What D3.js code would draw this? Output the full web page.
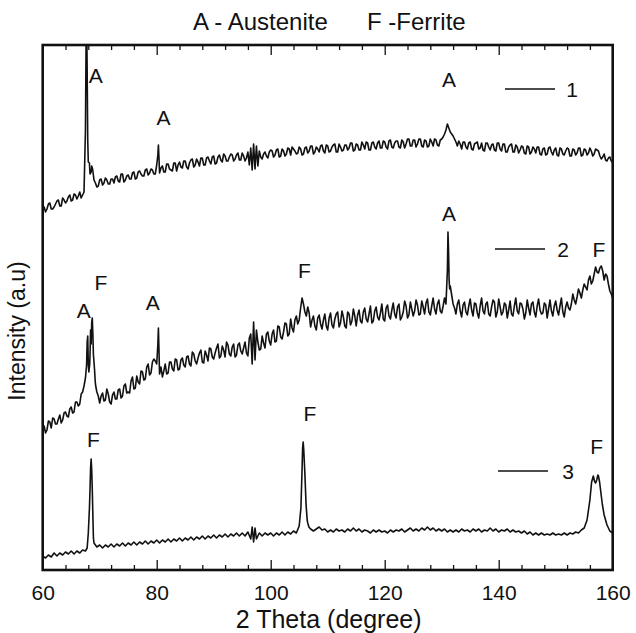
<!DOCTYPE html>
<html>
<head>
<meta charset="utf-8">
<script src="https://cdn.jsdelivr.net/npm/d3@7"></script>
<style>
  html, body { margin: 0; padding: 0; background: #fff; }
  svg { display: block; font-family: "Liberation Sans", Arial, sans-serif; }
</style>
</head>
<body>
<svg id="chart" width="636" height="633"></svg>
<script>
// ---------- DATA ----------
// 2-theta grid (degrees): main points every 0.5 deg from 60, in-between points at +0.25 deg
const twoTheta = d3.range(201).map(i => 60 + i * 0.5);
const twoThetaMid = d3.range(200).map(i => 60.25 + i * 0.5);

// Pattern 1 (top trace)
const int1 = [
  361,358,366,361,363,369,364,372,367,373,
  369,376,371,378,375,440,408,398,390,383,
  390,385,392,386,391,387,394,388,396,390,
  395,391,398,392,399,394,400,395,401,396,
  405,397,404,398,406,400,407,399,408,402,
  409,401,410,403,411,404,412,405,413,406,
  414,407,415,408,414,409,416,409,415,410,
  417,409,418,422,426,424,419,411,418,412,
  420,413,420,413,421,414,422,415,421,416,
  423,415,422,417,424,416,423,418,425,417,
  424,419,425,418,426,419,425,420,427,419,
  426,420,428,421,427,420,428,421,429,422,
  428,421,430,422,429,423,430,422,431,424,
  430,423,431,424,430,423,431,424,430,424,
  431,436,446,438,434,428,429,421,428,421,
  428,420,427,421,427,419,427,420,426,419,
  427,419,426,418,425,418,425,417,424,417,
  424,416,423,417,423,415,422,416,423,415,
  422,414,421,415,422,414,421,415,422,414,
  421,415,422,414,421,419,411,416,409,413,
  408
];
const int1Mid = [
  363,361,367,361,366,370,364,370,369,375,
  370,375,374,372,378,530,401,401,387,384,
  391,387,390,386,391,393,389,396,388,394,
  391,397,391,398,396,394,401,397,400,396,
  420,402,398,406,401,399,407,405,403,409,
  403,407,411,405,408,412,405,412,409,413,
  406,413,410,416,409,413,415,411,417,410,
  414,412,405,400,401,404,413,416,414,418,
  419,415,421,414,419,416,421,423,419,417,
  421,416,423,419,424,418,421,424,419,425,
  418,423,426,418,423,420,425,422,427,420,
  425,420,425,428,420,427,423,427,422,429,
  423,429,423,427,429,422,428,426,431,424,
  430,426,431,423,429,424,428,431,425,430,
  433,440,442,436,431,424,426,428,423,427,
  421,426,428,422,420,427,423,425,420,427,
  421,426,418,423,426,418,423,420,423,416,
  423,418,421,423,416,421,415,422,418,420,
  415,422,416,419,421,414,420,417,422,415,
  420,417,419,416,420,414,413,410,412,409
];
// extra points (2theta, intensity) resolving the sharp peaks of pattern 1
const peaks1 = [
  [67.6,520],[67.7,560],[67.8,500],[67.9,430],[68.2,407],[68.3,396],[68.6,404],[68.8,399],
  [80.2,415],[80.3,425],[80.4,412]
];

// Pattern 2 (middle trace)
const int2 = [
  143,137,149,142,151,146,155,150,158,153,
  163,158,168,166,178,192,205,226,208,178,
  167,177,170,176,166,178,171,181,174,186,
  178,189,181,194,186,198,191,206,197,211,
  206,196,193,206,197,208,199,210,201,212,
  203,214,204,216,206,217,208,219,209,221,
  211,222,212,224,213,225,214,226,215,227,
  216,228,214,236,248,240,220,234,222,238,
  225,240,229,243,231,247,234,251,238,254,
  250,272,258,263,243,254,240,255,241,256,
  240,257,242,256,243,259,244,258,245,261,
  244,260,247,262,248,264,249,263,250,266,
  249,265,251,267,252,266,253,269,252,268,
  254,270,255,269,256,271,255,272,256,270,
  257,272,300,284,266,256,270,253,268,255,
  271,254,266,252,272,256,268,254,270,253,
  271,255,267,252,269,254,272,256,266,251,
  270,255,268,253,271,256,267,252,270,254,
  269,255,272,253,268,260,276,266,281,272,
  286,280,294,289,303,297,304,290,294,279,
  272
];
const int2Mid = [
  144,140,148,152,146,151,147,157,154,161,
  157,168,164,176,184,216,206,244,186,174,
  174,169,181,168,175,171,180,172,184,177,
  177,193,182,188,199,190,203,195,208,209,
  234,203,199,196,208,201,211,200,210,205,
  213,206,218,209,212,220,207,215,222,213,
  217,226,214,220,228,216,223,213,225,219,
  222,217,232,206,210,228,221,227,236,229,
  236,228,244,233,238,246,236,242,250,246,
  262,266,254,257,250,244,252,246,250,244,
  252,245,251,258,247,253,242,256,249,254,
  255,249,258,251,256,247,259,253,257,251,
  262,254,260,256,263,250,258,264,255,261,
  259,265,256,263,267,258,264,261,266,259,
  264,266,305,275,262,266,259,265,258,264,
  260,267,257,264,259,266,256,263,268,258,
  263,258,265,260,256,264,259,267,261,257,
  262,266,258,264,260,257,265,261,259,264,
  260,264,258,263,262,266,270,273,277,280,
  283,290,286,296,298,302,299,296,286,276
];
const peaks2 = [
  [67.7,205],[67.8,228],[67.9,234],[68.1,198],[68.3,215],[68.4,240],[68.6,248],[68.7,252],
  [68.8,236],[68.9,215],[69.1,200],[69.2,190],[69.4,181],[80.2,225],[80.3,242],[80.4,220],
  [131.1,338],[131.2,320],[131.3,290],[131.4,281]
];

// Pattern 3 (bottom trace)
const int3 = [
  14,12,15,13,17,14,17,15,18,16,
  19,16,19,17,20,19,37,111,27,23,
  25,22,25,23,26,23,26,24,27,24,
  27,25,28,25,28,26,29,26,29,27,
  30,27,30,28,31,28,31,29,32,29,
  32,30,33,30,33,31,34,31,34,32,
  35,32,35,33,36,33,36,34,37,34,
  37,34,38,31,28,31,37,34,37,35,
  37,34,37,35,38,35,38,36,39,37,
  44,100,96,47,41,39,41,43,40,41,
  38,40,38,41,39,40,38,41,39,42,
  39,41,38,40,39,37,40,38,40,38,
  39,37,40,38,40,39,41,38,40,42,
  39,41,39,42,40,43,40,42,39,41,
  39,41,38,40,38,40,38,41,39,40,
  38,41,39,41,38,40,39,42,39,41,
  38,40,39,41,38,40,38,39,37,39,
  36,38,35,37,35,37,35,36,35,37,
  35,36,35,37,35,37,36,38,37,40,
  42,50,70,92,87,94,74,55,45,39,
  37
];
const peaks3 = [
  [67.8,22],[68.2,62],[68.3,80],[68.4,102],[68.6,100],[68.7,80],[68.8,55],[68.9,32],
  [96.75,43],[97.25,42],[105.3,62],[105.6,122],[105.7,128],[105.8,120],[106.2,66],[106.4,50],[106.7,43],
  [156.3,88],[156.6,94],[156.8,89],[157.2,90],[157.4,95],[157.7,88],[158.2,65]
];

const seriesNames = ["1", "2", "3"];
const xTickLabels = [60, 80, 100, 120, 140, 160];
const titleParts = ["A - Austenite", "F -Ferrite"];
const xTitle = "2 Theta (degree)";
const yTitle = "Intensity (a.u)";

// phase labels above peaks: label, 2theta, intensity level of the label
const peakLabelText  = ["A","A","A", "A","F","A","F","A","F", "F","F","F"];
const peakLabelTheta = [69.3,81.2,131.3, 67.2,70.2,79.3,105.9,131.3,157.6, 68.9,106.9,157.2];
const peakLabelInt   = [495,453,491, 260,288,268,300,357,321, 131,157,124];

// ---------- LAYOUT ----------
const plot = { left: 42.7, right: 612.7, top: 45, bottom: 570 };
const svg = d3.select("#chart");

const x = d3.scaleLinear().domain([60, 160]).range([plot.left, plot.right]);
const y = d3.scaleLinear().domain([0, 525]).range([plot.bottom, plot.top]);

svg.append("defs").append("clipPath").attr("id", "clip")
  .append("rect")
  .attr("x", plot.left).attr("y", plot.top)
  .attr("width", plot.right - plot.left).attr("height", plot.bottom - plot.top);

function mergePoints(vals, mids, extras) {
  let pts = twoTheta.map((t, i) => [t, vals[i]]);
  if (mids) pts = pts.concat(twoThetaMid.map((t, i) => [t, mids[i]]));
  return pts.concat(extras).sort((a, b) => a[0] - b[0]);
}
const allSeries = [
  mergePoints(int1, int1Mid, peaks1),
  mergePoints(int2, int2Mid, peaks2),
  mergePoints(int3, null, peaks3)
];

const line = d3.line().x(d => x(d[0])).y(d => y(d[1]));

svg.append("g").attr("clip-path", "url(#clip)")
  .selectAll("path").data(allSeries).join("path")
  .attr("d", line)
  .attr("fill", "none")
  .attr("stroke", "#111")
  .attr("stroke-width", 1.6)
  .attr("stroke-linejoin", "round");

// ---------- AXES ----------
const minorTicks = d3.range(60, 160.001, 4).filter(v => v % 20 !== 0);
const fontTick = 21;

const bottomMajor = d3.axisBottom(x).tickValues(xTickLabels).tickSizeInner(-10).tickSizeOuter(0)
  .tickPadding(15).tickFormat(d3.format("d"));
const bottomMinor = d3.axisBottom(x).tickValues(minorTicks).tickSizeInner(-5).tickSizeOuter(0).tickFormat("");
const topMajor = d3.axisTop(x).tickValues(xTickLabels).tickSizeInner(-10).tickSizeOuter(0).tickFormat("");
const topMinor = d3.axisTop(x).tickValues(minorTicks).tickSizeInner(-5).tickSizeOuter(0).tickFormat("");

function styleAxis(g) {
  g.select(".domain").remove();
  g.selectAll(".tick line").attr("stroke", "#111").attr("stroke-width", 1.3);
  g.selectAll(".tick text").attr("fill", "#111").attr("font-size", fontTick)
    .attr("font-family", "Liberation Sans, Arial, sans-serif");
}
svg.append("g").attr("transform", `translate(0,${plot.bottom})`).call(bottomMajor).call(styleAxis);
svg.append("g").attr("transform", `translate(0,${plot.bottom})`).call(bottomMinor).call(styleAxis);
svg.append("g").attr("transform", `translate(0,${plot.top})`).call(topMajor).call(styleAxis);
svg.append("g").attr("transform", `translate(0,${plot.top})`).call(topMinor).call(styleAxis);

// frame
svg.append("rect")
  .attr("x", plot.left).attr("y", plot.top)
  .attr("width", plot.right - plot.left).attr("height", plot.bottom - plot.top)
  .attr("fill", "none").attr("stroke", "#111").attr("stroke-width", 2.6);

// ---------- TEXT ----------
const titleX = [193, 367];
svg.selectAll("text.title").data(titleParts).join("text")
  .attr("class", "title")
  .attr("x", (d, i) => titleX[i]).attr("y", 30)
  .attr("font-size", 24).attr("fill", "#111")
  .text(d => d);

svg.append("text")
  .attr("x", (plot.left + plot.right) / 2 + 1).attr("y", 628)
  .attr("text-anchor", "middle").attr("font-size", 25).attr("fill", "#111")
  .text(xTitle);

svg.append("text")
  .attr("transform", "translate(25,331) rotate(-90)")
  .attr("text-anchor", "middle").attr("font-size", 23).attr("fill", "#111")
  .text(yTitle);

// peak labels
svg.append("g").selectAll("text").data(peakLabelText).join("text")
  .attr("x", (d, i) => x(peakLabelTheta[i]))
  .attr("y", (d, i) => y(peakLabelInt[i]))
  .attr("dy", "0.36em")
  .attr("text-anchor", "middle").attr("font-size", 21).attr("fill", "#111")
  .text(d => d);

// legend (line + number beside each trace)
const legendLayout = [
  { x0: 505, x1: 555, y: 89,  tx: 572 },
  { x0: 495, x1: 545, y: 249, tx: 563 },
  { x0: 498, x1: 548, y: 471, tx: 568 }
];
const lg = svg.append("g").selectAll("g").data(seriesNames).join("g");
lg.append("line")
  .attr("x1", (d, i) => legendLayout[i].x0).attr("x2", (d, i) => legendLayout[i].x1)
  .attr("y1", (d, i) => legendLayout[i].y).attr("y2", (d, i) => legendLayout[i].y)
  .attr("stroke", "#111").attr("stroke-width", 1.3);
lg.append("text")
  .attr("x", (d, i) => legendLayout[i].tx).attr("y", (d, i) => legendLayout[i].y)
  .attr("dy", "0.36em").attr("text-anchor", "middle")
  .attr("font-size", 21).attr("fill", "#111")
  .text(d => d);
</script>
</body>
</html>
